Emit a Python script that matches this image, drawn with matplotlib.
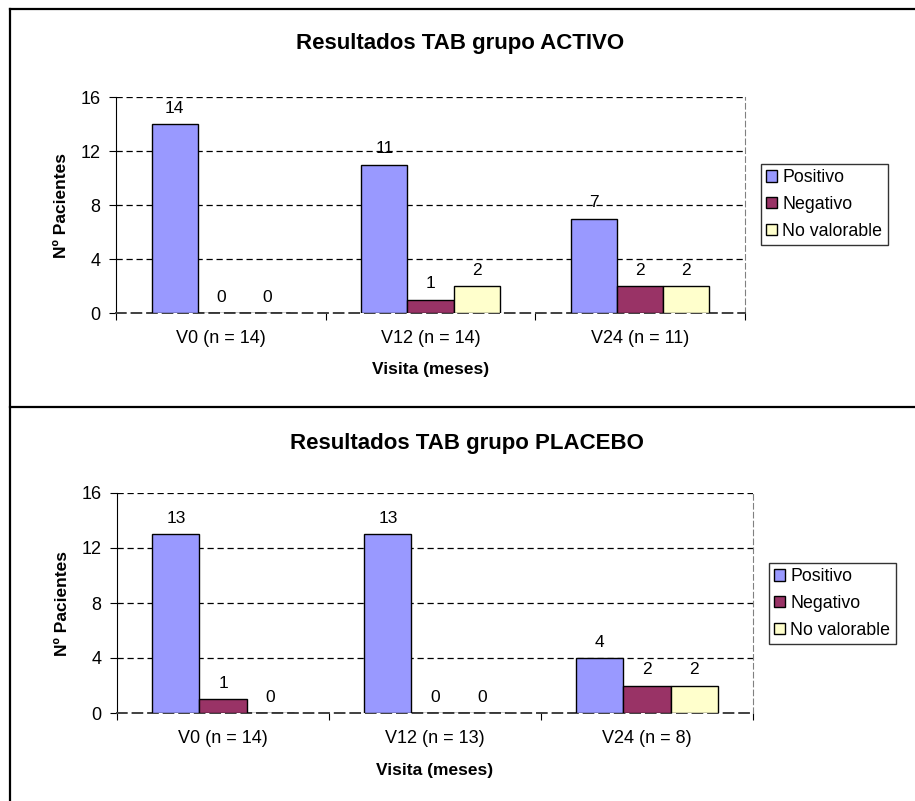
import numpy as np
import matplotlib
matplotlib.use('Agg')
import matplotlib.pyplot as plt
from matplotlib.lines import Line2D

plt.rcParams['font.family'] = ['Liberation Sans', 'DejaVu Sans']

visitas_activo = ['V0 (n = 14)', 'V12 (n = 14)', 'V24 (n = 11)']
visitas_placebo = ['V0 (n = 14)', 'V12 (n = 13)', 'V24 (n = 8)']
series = ['Positivo', 'Negativo', 'No valorable']
activo = [[14, 11, 7], [0, 1, 2], [0, 2, 2]]
placebo = [[13, 13, 4], [1, 0, 2], [0, 0, 2]]
colors = ['#9999FF', '#993366', '#FFFFCC']
yticks = [0, 4, 8, 12, 16]

W, H = 915, 801
fig = plt.figure(figsize=(W / 100, H / 100), dpi=100)


def panel(rect, title, title_xy, cats, data, legend_xy, bw):
    ax = fig.add_axes(rect)
    x = np.arange(len(cats)) + 0.5
    for k, (name, vals) in enumerate(zip(series, data)):
        bars = ax.bar(x + (k - 1) * bw, vals, bw, color=colors[k],
                      edgecolor='black', linewidth=1, label=name, zorder=3)
        for b, v in zip(bars, vals):
            ax.annotate(str(v), (b.get_x() + b.get_width() / 2, v),
                        xytext=(0, 6), textcoords='offset points',
                        ha='center', va='bottom', fontsize=12.5)
    ax.set_xlim(0, len(cats))
    ax.set_ylim(0, 16)
    ax.set_yticks(yticks)
    ax.tick_params(axis='y', labelsize=13, length=5, direction='out', pad=6)
    ax.set_xticks(np.arange(len(cats) + 1))
    ax.set_xticklabels([])
    ax.tick_params(axis='x', which='major', length=5, direction='out')
    ax.set_xticks(x, minor=True)
    ax.set_xticklabels(cats, minor=True)
    ax.tick_params(axis='x', which='minor', length=0, labelsize=13, pad=12)
    for yv in yticks[1:]:
        ax.axhline(yv, color='black', linestyle=(0, (5, 3)), linewidth=0.9, zorder=1)
    ax.spines['top'].set_visible(False)
    ax.spines['right'].set_color('#808080')
    ax.spines['right'].set_linestyle((0, (5, 3)))
    ax.spines['bottom'].set_color('#404040')
    ax.spines['bottom'].set_linestyle((0, (5, 3)))
    ax.spines['bottom'].set_linewidth(1.4)
    ax.text(-0.086, 0.5, 'Nº Pacientes', transform=ax.transAxes, rotation=90,
            ha='center', va='center', fontsize=12.5, fontweight='bold')
    ax.text(0.5, -0.225, 'Visita (meses)', transform=ax.transAxes,
            ha='center', va='top', fontsize=12.5, fontweight='bold')
    fig.text(title_xy[0] / W, 1 - title_xy[1] / H, title, ha='center',
             va='center', fontsize=16, fontweight='bold')
    leg = ax.legend(loc='upper left', bbox_to_anchor=legend_xy,
                    bbox_transform=fig.transFigure, fontsize=12.8,
                    fancybox=False, frameon=True, edgecolor='black',
                    handlelength=0.6, handleheight=0.6, handletextpad=0.3,
                    labelspacing=0.55, borderpad=0.3, borderaxespad=0)
    leg.get_frame().set_linewidth(1)
    return ax


panel([116 / W, 1 - 313 / H, 629 / W, 216 / H], 'Resultados TAB grupo ACTIVO',
      (460, 43), visitas_activo, activo, (761 / W, 1 - 164 / H), 0.22)
panel([117 / W, 1 - 713 / H, 636 / W, 220 / H], 'Resultados TAB grupo PLACEBO',
      (467, 443), visitas_placebo, placebo, (769 / W, 1 - 563 / H), 0.222)

# chart frames
for xs, ys in [((10, W), (9, 9)), ((10, 10), (9, H)), ((10, W), (407, 407))]:
    fig.add_artist(Line2D([v / W for v in xs], [1 - v / H for v in ys],
                          color='black', linewidth=1.6, transform=fig.transFigure))

fig.savefig('out.png', dpi=100)
